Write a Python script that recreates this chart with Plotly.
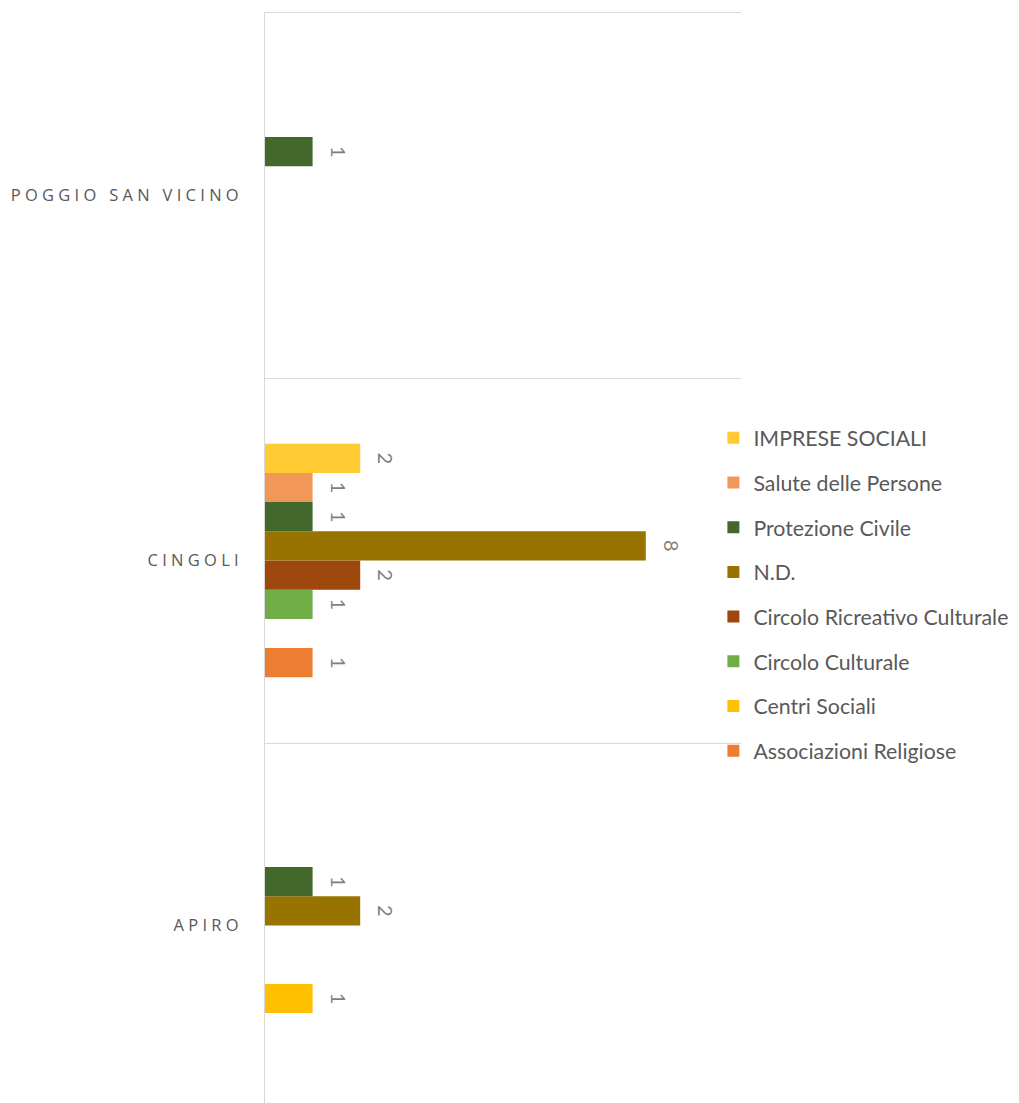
import plotly.graph_objects as go

categories = ["APIRO", "CINGOLI", "POGGIO SAN VICINO"]

series_names = [
    "Associazioni Religiose",
    "Centri Sociali",
    "Circolo Culturale",
    "Circolo Ricreativo Culturale",
    "N.D.",
    "Protezione Civile",
    "Salute delle Persone",
    "IMPRESE SOCIALI",
]
associazioni_religiose = [None, 1, None]
centri_sociali = [1, None, None]
circolo_culturale = [None, 1, None]
circolo_ricreativo_culturale = [None, 2, None]
nd = [2, 8, None]
protezione_civile = [1, 1, 1]
salute_delle_persone = [None, 1, None]
imprese_sociali = [None, 2, None]

series_values = [
    associazioni_religiose,
    centri_sociali,
    circolo_culturale,
    circolo_ricreativo_culturale,
    nd,
    protezione_civile,
    salute_delle_persone,
    imprese_sociali,
]
colors = [
    "#ED7D31",
    "#FFC000",
    "#70AD47",
    "#9E480E",
    "#997300",
    "#43682B",
    "#F1975A",
    "#FFCA32",
]


def spaced(label):
    return "\u00a0\u00a0\u00a0".join(" ".join(w) for w in label.split(" "))


tick_text = [spaced(c) for c in categories]

fig = go.Figure()
n = len(series_names)
for i, (name, vals, col) in enumerate(zip(series_names, series_values, colors)):
    fig.add_trace(
        go.Bar(
            y=categories,
            x=vals,
            name=name,
            orientation="h",
            marker=dict(color=col, line=dict(width=0)),
            texttemplate="<span style='font-size:20px'>%{x}</span><br>\u00a0",
            textposition="outside",
            textangle=90,
            constraintext="none",
            textfont=dict(family="Lato", size=10, color="#7F7F7F"),
            cliponaxis=False,
            legendgroup=name,
            legendrank=n - i,
            hoverinfo="x+name",
        )
    )

# page body has a default 8px margin
FIG_W = 1011
FIG_H = 1095
PLOT_TOP = 5
PLOT_H = FIG_H - PLOT_TOP
CAT_PX = 365

fig.update_layout(
    width=FIG_W,
    height=FIG_H,
    margin=dict(l=257, r=278, t=PLOT_TOP, b=0, pad=0, autoexpand=False),
    barmode="group",
    bargap=0.36,
    bargroupgap=0,
    paper_bgcolor="white",
    plot_bgcolor="white",
    showlegend=True,
    legend=dict(
        x=0.942,
        xanchor="left",
        y=0.4665,
        yanchor="middle",
        traceorder="grouped",
        tracegroupgap=14,
        font=dict(family="Lato", size=21.3, color="#595959"),
        bgcolor="rgba(0,0,0,0)",
    ),
    xaxis=dict(
        range=[0, 10],
        side="top",
        showgrid=False,
        zeroline=False,
        showticklabels=False,
        showline=True,
        linecolor="#D9D9D9",
        linewidth=1,
        ticks="",
        automargin=False,
    ),
    yaxis=dict(
        type="category",
        categoryorder="array",
        categoryarray=categories,
        tickvals=categories,
        ticktext=tick_text,
        range=[2.5 - PLOT_H / CAT_PX, 2.5],
        tickson="boundaries",
        ticks="",
        showgrid=True,
        gridcolor="#D9D9D9",
        gridwidth=1,
        showline=True,
        linecolor="#D9D9D9",
        linewidth=1,
        zeroline=False,
        automargin=False,
        ticklabelstandoff=22,
        tickfont=dict(family="Open Sans", size=16.5, color="#595959"),
    ),
)

fig.write_html("out.html")
